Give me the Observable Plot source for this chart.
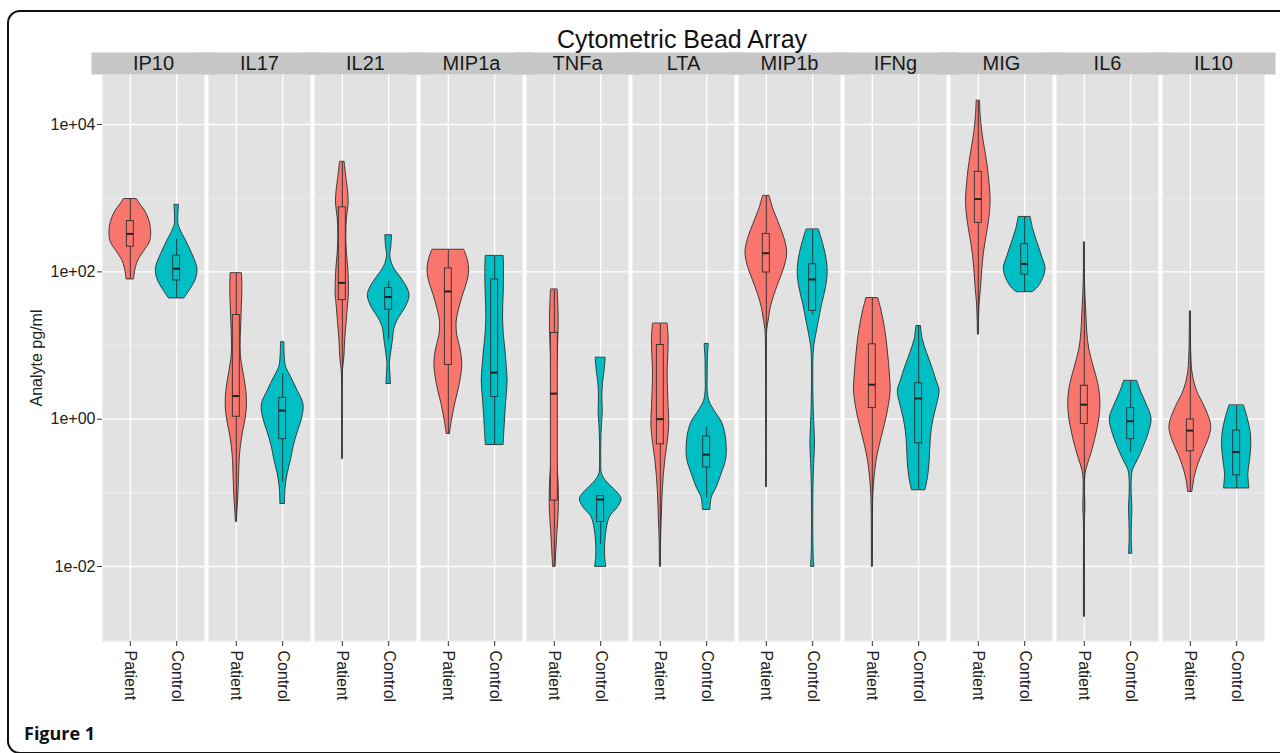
<!DOCTYPE html>
<html>
<head>
<meta charset="utf-8">
<script src="https://cdn.jsdelivr.net/npm/d3@7"></script>
<script src="https://cdn.jsdelivr.net/npm/@observablehq/plot@0.6"></script>
<style>
  html, body { margin: 0; padding: 0; background: #fff; width: 1280px; height: 753px; overflow: hidden; position: relative; }
  #frame { position: absolute; left: 7px; top: 10px; width: 1273px; height: 744px; border: 2px solid #111; border-right: none; border-radius: 13px 0 0 13px; box-sizing: border-box; }
  #chart { position: absolute; left: 0; top: 0; width: 1280px; height: 720px; overflow: hidden; }
  #title { position: absolute; top: 27px; left: 482px; width: 400px; text-align: center; font: 25px/25px "Liberation Sans", Arial, sans-serif; color: #111; white-space: nowrap; }
  #fig { position: absolute; left: 24px; top: 724px; font: bold 18px/18px "Open Sans", sans-serif; color: #111; }
</style>
</head>
<body>
<div id="frame"></div>
<div id="chart"></div>
<div id="title">Cytometric Bead Array</div>
<div id="fig">Figure 1</div>
<script>
// ---- categories ----
const analytes = ["IP10","IL17","IL21","MIP1a","TNFa","LTA","MIP1b","IFNg","MIG","IL6","IL10"];
const groups = ["Patient","Control"];
const groupColors = ["#F8766D","#00BFC4"];

// ---- y axis ticks (log10 exponents) ----
const yMajorExp = [4, 2, 0, -2];
const yMajorLabels = ["1e+04","1e+02","1e+00","1e-02"];
const yMinorExp = [3, 1, -1, -3];

// ---- violin profiles: [log10(pg/ml), relative density] ----
const ip10Patient = [[2.984,.32],[2.913,.48],[2.820,.72],[2.679,.93],[2.515,1],[2.398,.93],[2.281,.67],[2.164,.40],[2.047,.26],[1.897,.18]];
const ip10Control = [[2.904,.11],[2.773,.08],[2.656,.08],[2.562,.19],[2.422,.45],[2.258,.72],[2.117,.93],[2.014,1],[1.883,.9],[1.766,.67],[1.639,.37]];
const il17Patient = [[1.977,.27],[1.789,.29],[1.555,.27],[1.321,.24],[1.087,.21],[0.852,.22],[0.618,.35],[0.384,.48],[0.197,.51],[0.009,.45],[-0.178,.32],[-0.365,.22],[-0.553,.16],[-0.787,.13],[-1.021,.10],[-1.255,.05],[-1.396,.02]];
const il17Control = [[1.040,.08],[0.852,.10],[0.712,.16],[0.571,.40],[0.384,.72],[0.197,1],[0.009,.93],[-0.178,.72],[-0.365,.53],[-0.553,.40],[-0.740,.24],[-0.927,.14],[-1.152,.11]];
const il21Patient = [[3.489,.11],[3.288,.19],[3.054,.29],[2.913,.30],[2.726,.22],[2.492,.19],[2.258,.22],[2.023,.29],[1.789,.32],[1.696,.32],[1.508,.26],[1.321,.21],[1.087,.14],[0.852,.10],[0.712,.05],[0.618,.02],[-0.543,.01]];
const il21Control = [[2.492,.16],[2.351,.13],[2.211,.08],[2.070,.22],[1.930,.56],[1.789,.88],[1.672,1],[1.508,.80],[1.368,.48],[1.227,.27],[1.087,.21],[0.946,.14],[0.759,.06],[0.618,.08],[0.478,.11]];
const mip1aPatient = [[2.295,.77],[2.164,.93],[2.023,1],[1.883,.93],[1.696,.72],[1.508,.53],[1.321,.40],[1.133,.43],[0.946,.59],[0.759,.67],[0.571,.61],[0.384,.48],[0.197,.32],[0.009,.19],[-0.131,.11],[-0.201,.08]];
const mip1aControl = [[2.211,.43],[1.977,.45],[1.696,.43],[1.415,.40],[1.180,.43],[0.946,.51],[0.712,.58],[0.525,.62],[0.337,.58],[0.150,.53],[-0.084,.48],[-0.225,.45],[-0.351,.43]];
const tnfaPatient = [[1.756,.16],[1.555,.19],[1.321,.21],[1.087,.19],[0.852,.16],[0.618,.13],[0.384,.11],[0.150,.08],[-0.084,.06],[-0.319,.08],[-0.553,.13],[-0.787,.19],[-1.021,.22],[-1.255,.21],[-1.489,.16],[-1.724,.11],[-2.005,.06]];
const tnfaControl = [[0.829,.24],[0.665,.19],[0.478,.11],[0.290,.08],[0.103,.10],[-0.084,.06],[-0.319,.03],[-0.553,.03],[-0.740,.06],[-0.834,.24],[-0.927,.56],[-1.021,.88],[-1.091,1],[-1.208,.80],[-1.325,.45],[-1.489,.29],[-1.677,.22],[-1.864,.21],[-2.005,.27]];
const ltaPatient = [[1.293,.35],[1.087,.40],[0.852,.38],[0.618,.35],[0.384,.37],[0.150,.40],[-0.084,.43],[-0.319,.35],[-0.553,.24],[-0.787,.16],[-1.021,.11],[-1.255,.08],[-1.489,.05],[-1.724,.03],[-2.005,.02]];
const ltaControl = [[1.016,.10],[0.852,.06],[0.618,.05],[0.384,.05],[0.244,.13],[0.103,.40],[-0.037,.72],[-0.178,.88],[-0.365,.96],[-0.553,.93],[-0.740,.72],[-0.927,.48],[-1.068,.24],[-1.232,.18]];
const mip1bPatient = [[3.026,.16],[2.866,.32],[2.632,.64],[2.445,.88],[2.258,1],[2.070,.88],[1.883,.64],[1.696,.40],[1.508,.21],[1.368,.13],[1.227,.05],[1.040,.02],[-0.927,.01]];
const mip1bControl = [[2.571,.30],[2.351,.53],[2.164,.67],[2.000,.72],[1.789,.64],[1.555,.45],[1.321,.29],[1.133,.16],[0.946,.06],[0.618,.03],[0.150,.05],[-0.084,.08],[-0.319,.11],[-0.553,.08],[-0.787,.05],[-1.255,.03],[-1.489,.03],[-1.864,.05],[-2.005,.08]];
const ifngPatient = [[1.639,.29],[1.461,.45],[1.227,.61],[0.993,.72],[0.759,.80],[0.525,.86],[0.384,.88],[0.197,.80],[0.009,.67],[-0.178,.51],[-0.365,.35],[-0.553,.21],[-0.787,.11],[-1.021,.05],[-1.255,.03],[-2.005,.02]];
const ifngControl = [[1.260,.11],[1.087,.19],[0.899,.40],[0.712,.64],[0.525,.85],[0.384,1],[0.197,.88],[0.009,.72],[-0.178,.61],[-0.365,.56],[-0.553,.53],[-0.787,.45],[-0.965,.32]];
const migPatient = [[4.319,.08],[4.131,.11],[3.897,.19],[3.663,.32],[3.429,.45],[3.194,.54],[2.960,.59],[2.726,.53],[2.492,.40],[2.258,.27],[2.023,.19],[1.789,.13],[1.555,.06],[1.321,.03],[1.148,.02]];
const migControl = [[2.740,.29],[2.585,.40],[2.398,.61],[2.211,.83],[2.047,1],[1.906,.88],[1.789,.64],[1.724,.38]];
const il6Patient = [[2.398,.02],[2.023,.02],[1.696,.05],[1.415,.10],[1.180,.14],[0.946,.24],[0.712,.45],[0.478,.67],[0.244,.77],[0.009,.72],[-0.225,.56],[-0.459,.35],[-0.600,.19],[-0.740,.06],[-0.927,.03],[-1.208,.05],[-1.396,.02],[-1.958,.02],[-2.684,.02]];
const il6Control = [[0.515,.32],[0.384,.48],[0.197,.77],[0.009,1],[-0.178,.88],[-0.365,.64],[-0.553,.35],[-0.693,.11],[-0.834,.05],[-1.021,.05],[-1.208,.08],[-1.396,.06],[-1.630,.05],[-1.827,.08]];
const il10Patient = [[1.461,.02],[1.087,.03],[0.852,.05],[0.618,.11],[0.384,.32],[0.150,.72],[-0.084,1],[-0.225,.93],[-0.412,.67],[-0.600,.40],[-0.787,.21],[-0.927,.13],[-0.988,.10]];
const il10Control = [[0.183,.35],[0.009,.53],[-0.178,.67],[-0.365,.70],[-0.553,.64],[-0.740,.56],[-0.941,.61]];

// ---- box statistics: [whiskerLow, q1, median, q3, whiskerHigh] in log10(pg/ml), one row per analyte ----
const patientBox = [
  [1.897, 2.342, 2.515, 2.689, 2.984],
  [-1.396, 0.033, 0.314, 1.415, 1.977],
  [-0.543, 1.616, 1.850, 2.876, 3.489],
  [-0.201, 0.735, 1.733, 2.047, 2.295],
  [-2.005, -1.105, 0.347, 1.171, 1.756],
  [-2.005, -0.342, 0.000, 1.007, 1.293],
  [-0.927, 1.991, 2.253, 2.515, 3.026],
  [-2.005, 0.150, 0.468, 1.016, 1.639],
  [1.148, 2.665, 2.988, 3.358, 4.319],
  [-2.684, -0.066, 0.197, 0.454, 2.398],
  [-0.988, -0.436, -0.155, -0.005, 1.461]
];
const controlBox = [
  [1.639, 1.883, 2.042, 2.220, 2.445],
  [-0.857, -0.272, 0.117, 0.290, 0.618],
  [1.077, 1.485, 1.658, 1.780, 1.869],
  [-0.351, 0.300, 0.632, 1.897, 2.211],
  [-1.700, -1.396, -1.091, -1.044, -1.044],
  [-1.068, -0.656, -0.482, -0.234, -0.108],
  [1.415, 1.471, 1.897, 2.103, 2.571],
  [-0.965, -0.328, 0.281, 0.487, 1.260],
  [1.724, 1.963, 2.108, 2.375, 2.740],
  [-0.450, -0.272, -0.028, 0.150, 0.515],
  [-0.941, -0.763, -0.445, -0.155, 0.183]
];

const profileList = [
  [ip10Patient, ip10Control], [il17Patient, il17Control], [il21Patient, il21Control],
  [mip1aPatient, mip1aControl], [tnfaPatient, tnfaControl], [ltaPatient, ltaControl],
  [mip1bPatient, mip1bControl], [ifngPatient, ifngControl], [migPatient, migControl],
  [il6Patient, il6Control], [il10Patient, il10Control]
];

// ---- tables built from the arrays ----
const violinRows = [];
analytes.forEach((a, i) => groups.forEach((g, j) => {
  for (const [lg, dens] of profileList[i][j]) {
    violinRows.push({analyte: a, group: g, pos: j + 1, value: 10 ** lg, dens});
  }
}));
const boxRows = analytes.flatMap((a, i) => groups.map((g, j) => {
  const b = (j === 0 ? patientBox : controlBox)[i];
  return {analyte: a, group: g, pos: j + 1, lo: 10 ** b[0], q1: 10 ** b[1], med: 10 ** b[2], q3: 10 ** b[3], hi: 10 ** b[4]};
}));

const violinHalf = 0.45;
const boxHalf = 0.075;
const outline = "#2e2e2e";

const chart = Plot.plot({
  width: 1280,
  height: 720,
  marginLeft: 99,
  marginRight: 14,
  marginTop: 74,
  marginBottom: 79,
  style: {fontFamily: "'Liberation Sans', Arial, sans-serif", background: "transparent", color: "#1a1a1a"},
  fx: {domain: analytes, paddingInner: 0.042, paddingOuter: 0, axis: null, label: null},
  x: {domain: [0.4, 2.6], axis: null},
  y: {type: "log", domain: [10 ** -3.018, 10 ** 4.679], axis: null},
  color: {domain: groups, range: groupColors},
  marks: [
    Plot.frame({fill: "#E2E2E2"}),
    Plot.frame({anchor: "top", stroke: "#C6C6C6", strokeWidth: 22, dy: -11}),
    Plot.ruleY(yMinorExp.map(e => 10 ** e), {stroke: "#F0F0F0", strokeWidth: 0.7}),
    Plot.ruleY(yMajorExp.map(e => 10 ** e), {stroke: "#FFFFFF", strokeWidth: 1.3}),
    Plot.ruleX([1, 2], {stroke: "#FFFFFF", strokeWidth: 1.3}),
    Plot.areaX(violinRows, {
      fx: "analyte", y: "value",
      x1: d => d.pos - violinHalf * d.dens,
      x2: d => d.pos + violinHalf * d.dens,
      z: d => d.analyte + "|" + d.group,
      fill: "group", stroke: outline, strokeWidth: 0.9, curve: "catmull-rom"
    }),
    Plot.ruleX(boxRows, {fx: "analyte", x: "pos", y1: "lo", y2: "hi", stroke: outline, strokeWidth: 0.9}),
    Plot.rect(boxRows, {
      fx: "analyte", x1: d => d.pos - boxHalf, x2: d => d.pos + boxHalf,
      y1: "q1", y2: "q3", fill: "group", stroke: outline, strokeWidth: 0.9
    }),
    Plot.ruleY(boxRows, {
      fx: "analyte", y: "med", x1: d => d.pos - boxHalf, x2: d => d.pos + boxHalf,
      stroke: "#222", strokeWidth: 2
    }),
    Plot.text(analytes, {fx: d => d, text: d => d, frameAnchor: "top", lineAnchor: "middle", dy: -11, fontSize: 20, fill: "#1a1a1a"}),
    Plot.axisY({
      ticks: yMajorExp.map(e => 10 ** e),
      tickFormat: d => yMajorLabels[yMajorExp.indexOf(Math.round(Math.log10(d)))],
      fontSize: 16, tickSize: 5, tickPadding: 2, stroke: "#333", fill: "#222",
      label: "Analyte pg/ml", labelAnchor: "center", labelArrow: "none", labelOffset: 72
    }),
    Plot.axisX({
      ticks: [1, 2], tickFormat: d => groups[d - 1], tickRotate: 90,
      fontSize: 16, tickSize: 5, tickPadding: 4, stroke: "#333", fill: "#222", label: null
    })
  ]
});
document.getElementById("chart").appendChild(chart);
</script>
</body>
</html>
